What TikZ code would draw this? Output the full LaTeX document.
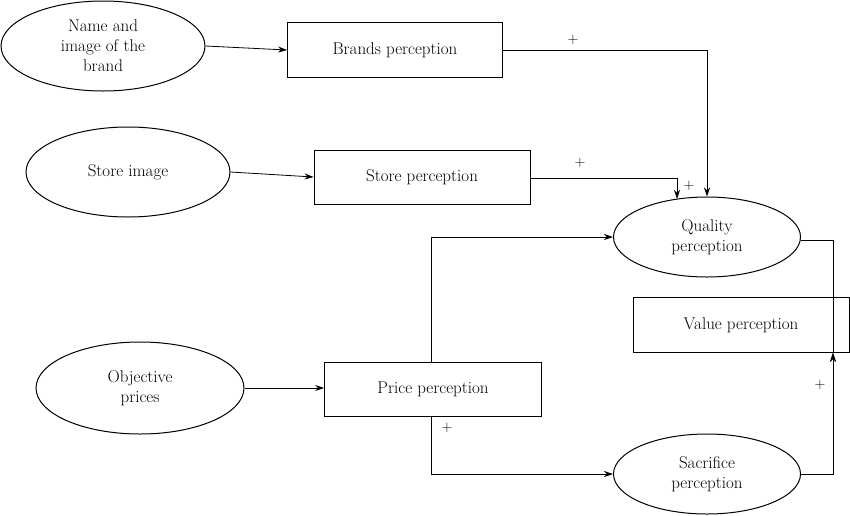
\documentclass[tikz,border=0pt]{standalone}
\usetikzlibrary{shapes.geometric,arrows.meta}
\begin{document}
\begin{tikzpicture}[x=1pt,y=-1pt,
  every node/.style={font=\fontsize{17}{20}\selectfont, align=center},
  ell/.style={draw, ellipse, line width=1pt, inner sep=0pt},
  box/.style={draw, rectangle, line width=0.8pt, inner sep=0pt},
  arr/.style={-{Stealth[length=9pt,width=6pt]}, line width=0.8pt},
  pl/.style={font=\fontsize{15}{18}\selectfont}]
\useasboundingbox (0,0) rectangle (850,515);
\node[ell, minimum width=204, minimum height=90] (e1) at (103,46) {Name and\\image of the\\brand};
\node[box, minimum width=215, minimum height=55] (b1) at (395,50) {Brands perception};
\node[ell, minimum width=204, minimum height=90] (e2) at (128,172) {Store image};
\node[box, minimum width=216, minimum height=54] (b2) at (422,177) {Store perception};
\node[ell, minimum width=187, minimum height=80] (q) at (707,237) {Quality\\perception};
\node[box, minimum width=216, minimum height=55] (v) at (741,325) {Value perception};
\node[ell, minimum width=208, minimum height=92] (e3) at (140,388) {Objective\\prices};
\node[box, minimum width=217, minimum height=54] (p) at (433,389) {Price perception};
\node[ell, minimum width=187, minimum height=80] (s) at (707,474) {Sacrifice\\perception};
\coordinate (c1) at (707,50);
\coordinate (c2) at (677,178);
\coordinate (c3) at (431,237);
\coordinate (c4) at (431,474);
\coordinate (c5) at (833,240);
\coordinate (c6) at (833,474);
\draw[arr] (e1.east) -- (b1.west);
\draw[arr] (b1.east) -- (c1) -- (q.north);
\draw[arr] (e2.east) -- (b2.west);
\draw[arr] (b2.east |- c2) -- (c2) -- (677,199);
\draw[arr] (e3.east) -- (p.west |- e3.east);
\draw[arr] (p.north -| c3) -- (c3) -- (q.west |- c3);
\draw[arr] (p.south -| c4) -- (c4) -- (s.west);
\draw[arr] (q.east |- c5) -- (c5) -- (v.south -| c5) ++(0,0);
\draw[arr] (s.east) -- (c6) -- (v.south -| c6);
\node[pl] (p1) at (573,40) {+};
\node[pl] (p2) at (580,163) {+};
\node[pl] (p3) at (689,186) {+};
\node[pl] (p4) at (447,428) {+};
\node[pl] (p5) at (820,385) {+};
\end{tikzpicture}
\end{document}
